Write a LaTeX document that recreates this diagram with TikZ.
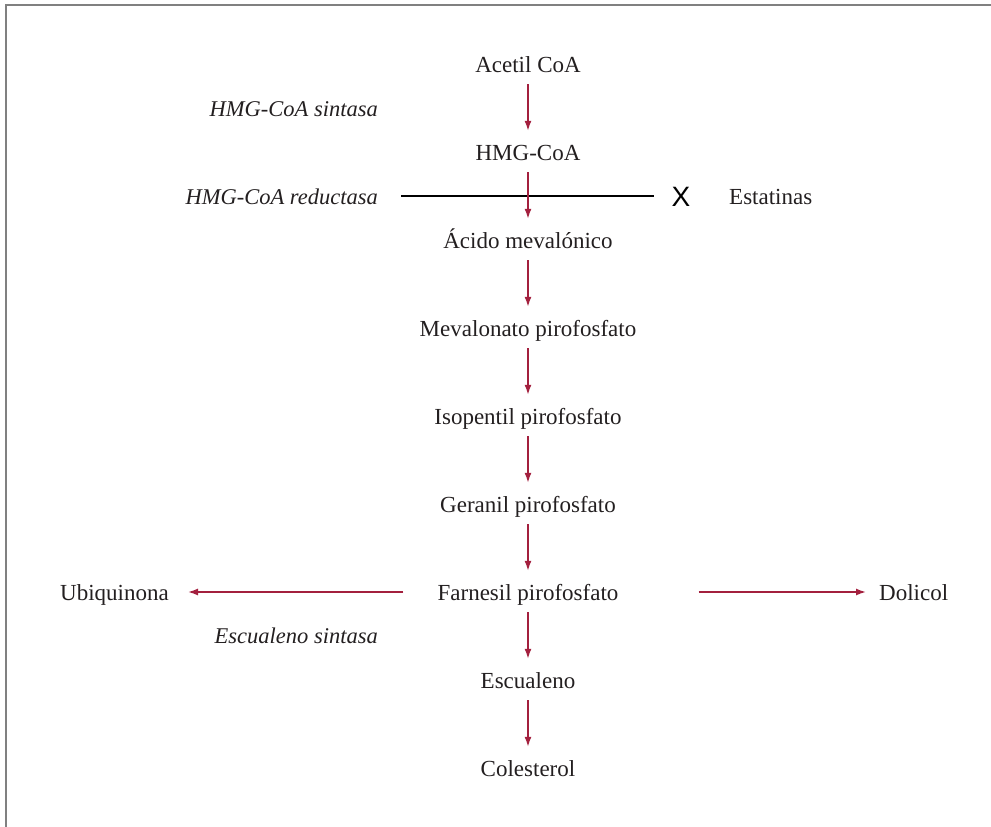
\documentclass[tikz,border=0pt]{standalone}
\usepackage{fontspec}
\setmainfont{Liberation Serif}
\newfontfamily\marksans{Liberation Sans}
\usetikzlibrary{arrows.meta}
\definecolor{pathred}{RGB}{163,32,62}
\definecolor{inktext}{RGB}{35,31,32}
\definecolor{framegray}{RGB}{128,128,128}
\tikzset{
  compound/.style={anchor=base, inner sep=0pt, text height=16pt, text depth=5pt,
    font=\fontsize{23}{27}\selectfont, text=inktext},
  enzyme/.style={anchor=base east, inner sep=0pt, text height=16pt, text depth=5pt,
    font=\fontsize{22.5}{27}\selectfont\itshape, text=inktext},
  sidebox/.style={compound},
  flow/.style={draw=pathred, line width=1.5pt, -{Latex[length=10pt,width=7pt]}},
  vflow/.style={flow, shorten <=7pt, shorten >=13pt},
  block/.style={draw=black, line width=2.8pt},
}
\begin{document}
\begin{tikzpicture}[x=1pt,y=-1pt]
\useasboundingbox (0,0) rectangle (991,827);
% partial frame
\draw[framegray, line width=2pt] (6,828) -- (6,5) -- (992,5);

% main pathway
\node[compound] (acetil) at (528,72) {Acetil CoA};
\node[compound] (hmg) at (528,160) {HMG-CoA};
\node[compound] (acido) at (528,248) {Ácido mevalónico};
\node[compound] (mevpp) at (528,336) {Mevalonato pirofosfato};
\node[compound] (isopp) at (528,424) {Isopentil pirofosfato};
\node[compound] (gerpp) at (528,512) {Geranil pirofosfato};
\node[compound] (farpp) at (528,600) {Farnesil pirofosfato};
\node[compound] (escu) at (528,688) {Escualeno};
\node[compound] (coles) at (528,776) {Colesterol};

% side products
\node[sidebox, anchor=base west] (ubi) at (60,600) {Ubiquinona};
\node[sidebox, anchor=base west] (doli) at (879,600) {Dolicol};

% enzymes
\node[enzyme] (sintasa) at (378,116) {HMG-CoA sintasa};
\node[enzyme] (reduct) at (378,204) {HMG-CoA reductasa};
\node[enzyme] (escsin) at (378,643) {Escualeno sintasa};

% statin block
\node[anchor=base, inner sep=0pt, font=\marksans\fontsize{28}{30}\selectfont, text=black] (xmark) at (681,206) {X};
\node[sidebox, anchor=base west] (estat) at (729,204) {Estatinas};
\coordinate (b0) at ([xshift=23pt,yshift=8pt]reduct.base east);
\coordinate (b1) at ([xshift=-17pt]xmark.west);
\draw[block] (b0) -- (b0 -| b1);

% vertical steps
\draw[vflow] (acetil.south) -- (hmg.north);
\draw[vflow] (hmg.south) -- (acido.north);
\draw[vflow] (acido.south) -- (mevpp.north);
\draw[vflow] (mevpp.south) -- (isopp.north);
\draw[vflow] (isopp.south) -- (gerpp.north);
\draw[vflow] (gerpp.south) -- (farpp.north);
\draw[vflow] (farpp.south) -- (escu.north);
\draw[vflow] (escu.south) -- (coles.north);

% branches from farnesil pirofosfato
\coordinate (u0) at ([xshift=-34pt,yshift=8pt]farpp.base west);
\coordinate (u1) at ([xshift=19pt]ubi.base east);
\draw[flow] (u0) -- (u0 -| u1);
\coordinate (d0) at ([xshift=80pt,yshift=8pt]farpp.base east);
\coordinate (d1) at ([xshift=-13pt]doli.base west);
\draw[flow] (d0) -- (d0 -| d1);
\end{tikzpicture}
\end{document}
